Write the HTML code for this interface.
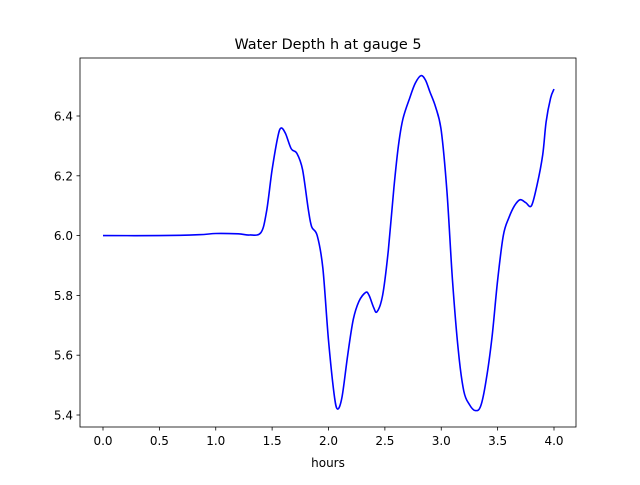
<!DOCTYPE html>
<html><head><meta charset="utf-8"><style>
body{margin:0;background:#fff;font-family:"Liberation Sans","DejaVu Sans",sans-serif}
svg text{font-family:"DejaVu Sans","Liberation Sans",sans-serif;font-size:12px;fill:#000}
</style></head><body>
<svg width="640" height="480">
<rect width="640" height="480" fill="#fff"/>
<g id="ticks"></g>
<path id="line" fill="none" stroke="#0000ff" stroke-width="1.6" stroke-linejoin="round"/>
<rect x="80" y="58" width="496" height="369" fill="none" stroke="#000" stroke-width="0.8"/>
<text x="328" y="49" text-anchor="middle" style="font-size:14.4px">Water Depth h at gauge 5</text>
<text x="328" y="467" text-anchor="middle">hours</text>
</svg>
<script>
const times=[0,0.5,0.85,1.0,1.2,1.3,1.4,1.45,1.5,1.55,1.58,1.62,1.67,1.72,1.77,1.82,1.85,1.9,1.95,2.0,2.05,2.08,2.12,2.17,2.22,2.27,2.33,2.36,2.4,2.43,2.48,2.53,2.58,2.62,2.66,2.72,2.77,2.82,2.86,2.9,2.95,3.0,3.05,3.1,3.15,3.2,3.25,3.3,3.35,3.4,3.45,3.5,3.55,3.6,3.65,3.7,3.75,3.8,3.85,3.9,3.93,3.97,4.0];
const depth=[6.0,6.0,6.003,6.007,6.006,6.002,6.01,6.08,6.22,6.33,6.36,6.34,6.29,6.275,6.22,6.09,6.03,6.0,5.89,5.65,5.47,5.42,5.46,5.6,5.72,5.78,5.81,5.8,5.76,5.745,5.8,5.95,6.16,6.3,6.39,6.46,6.51,6.535,6.52,6.48,6.43,6.35,6.15,5.85,5.62,5.48,5.435,5.415,5.43,5.52,5.66,5.85,6.0,6.06,6.1,6.12,6.11,6.1,6.17,6.27,6.38,6.46,6.49];
const xTicks=[0,0.5,1.0,1.5,2.0,2.5,3.0,3.5,4.0];
const yTicks=[5.4,5.6,5.8,6.0,6.2,6.4];
const X=v=>103+v*112.75, Y=v=>415-(v-5.4)*299;
const NS="http://www.w3.org/2000/svg";
const g=document.getElementById('ticks');
function mk(t,a){const e=document.createElementNS(NS,t);for(const k in a)e.setAttribute(k,a[k]);g.appendChild(e);return e;}
xTicks.forEach(v=>{
 const l=mk('line',{x1:X(v),x2:X(v),y1:427,y2:430.5,stroke:'#000','stroke-width':0.8});
 
 
 const t=mk('text',{x:X(v),y:445,'text-anchor':'middle'});t.textContent=v.toFixed(1);
 
 
});
yTicks.forEach(v=>{
 const l=mk('line',{x1:76.5,x2:80,y1:Y(v),y2:Y(v),stroke:'#000','stroke-width':0.8});
 
 
 const t=mk('text',{x:73,y:Y(v)+4.5,'text-anchor':'end'});t.textContent=v.toFixed(1);
 
 
});
const P=times.map((t,i)=>[X(t),Y(depth[i])]);
let d='M'+P[0][0].toFixed(1)+','+P[0][1].toFixed(1);
for(let i=0;i<P.length-1;i++){
 const p0=P[Math.max(0,i-1)],p1=P[i],p2=P[i+1],p3=P[Math.min(P.length-1,i+2)];
 const c1=[p1[0]+(p2[0]-p0[0])/6,p1[1]+(p2[1]-p0[1])/6];
 const c2=[p2[0]-(p3[0]-p1[0])/6,p2[1]-(p3[1]-p1[1])/6];
 d+='C'+c1.map(n=>n.toFixed(1)).join(',')+' '+c2.map(n=>n.toFixed(1)).join(',')+' '+p2.map(n=>n.toFixed(1)).join(',');
}
document.getElementById('line').setAttribute('d',d);
</script>
</body></html>
